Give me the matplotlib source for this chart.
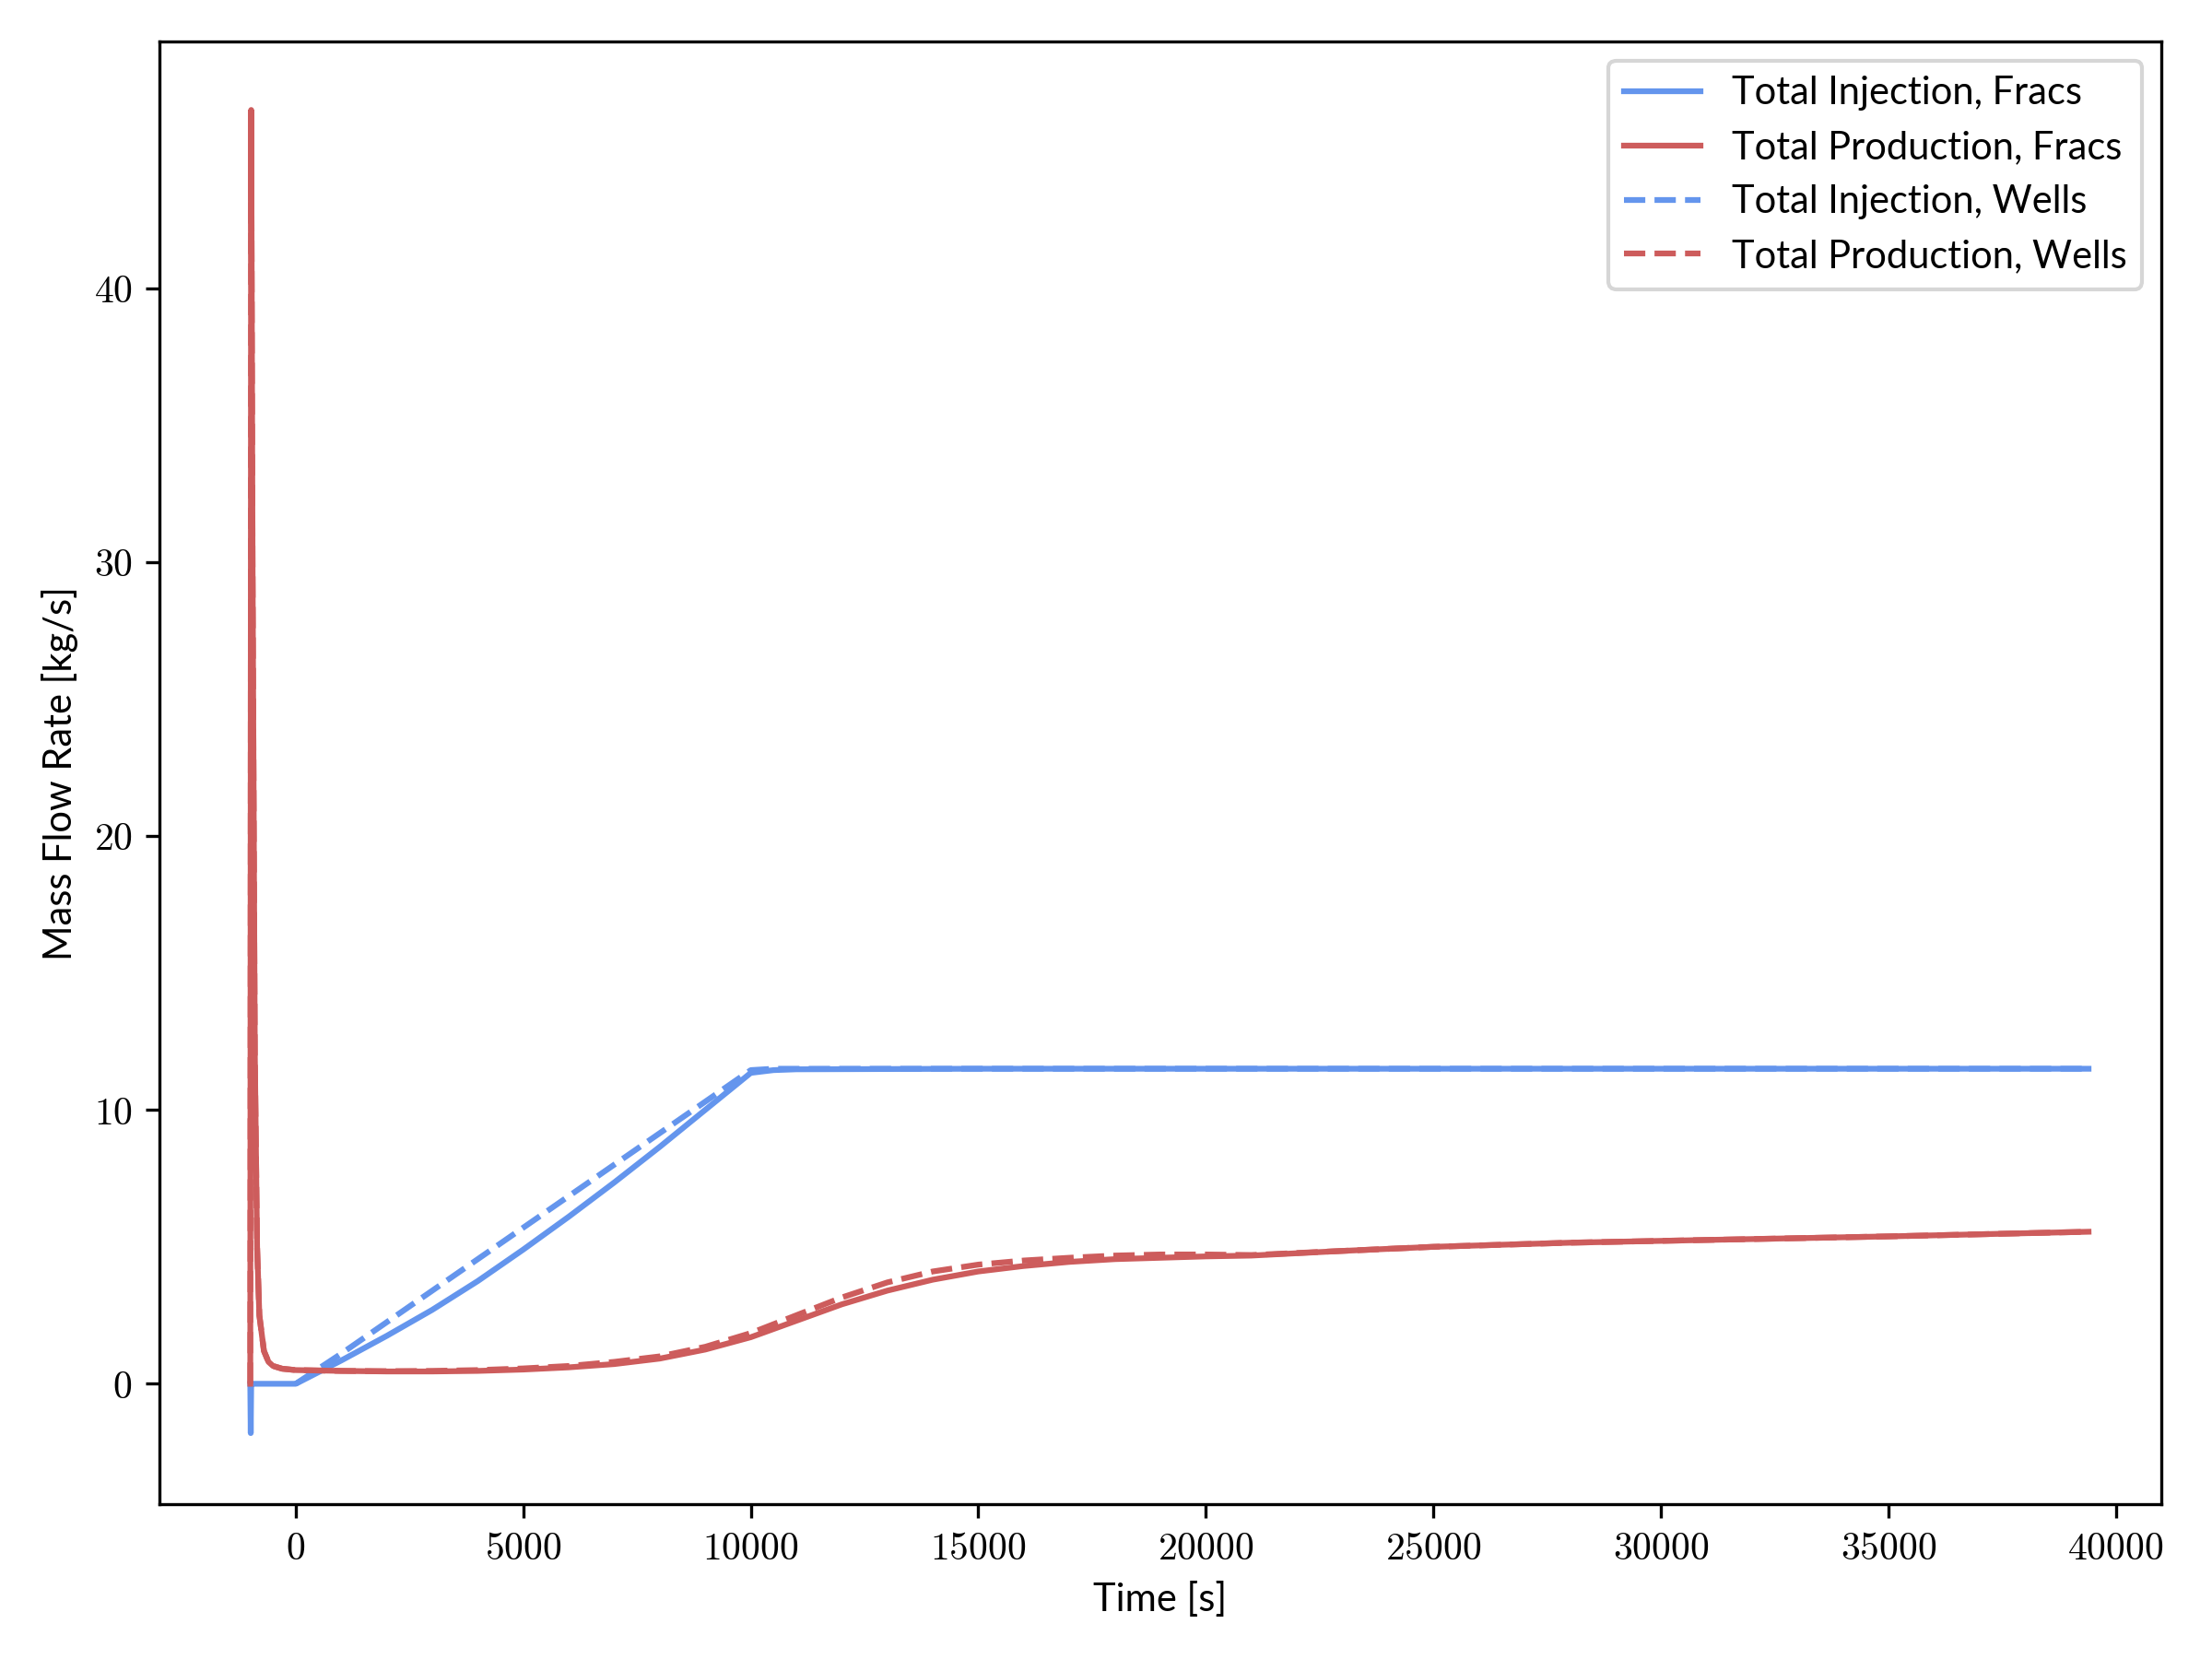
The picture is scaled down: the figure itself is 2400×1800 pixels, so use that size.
import matplotlib.pyplot as plt
import matplotlib.ticker as mticker

plt.rcParams['mathtext.fontset'] = 'cm'
plt.rcParams['font.family'] = ['Lato', 'DejaVu Sans']

# time points [s]
t_inj = [-1000, -990, -980, -900, 0, 1000, 2000, 3000, 4000, 5000, 6000, 7000, 8000, 9000,
         10000, 10500, 11000, 15000, 20000, 30000, 39400]
inj_fracs = [0.0, -1.8, 0.0, 0.0, 0.0, 0.85, 1.75, 2.7, 3.75, 4.9, 6.1, 7.35, 8.65, 10.0,
             11.35, 11.45, 11.48, 11.5, 11.5, 11.5, 11.5]
t_inj_w = [0, 1000, 2000, 3000, 4000, 5000, 6000, 7000, 8000, 9000, 10000, 10500, 11000,
           15000, 20000, 30000, 39400]
inj_wells = [0.0, 1.1, 2.25, 3.4, 4.55, 5.7, 6.85, 8.0, 9.15, 10.3, 11.45, 11.5, 11.5,
             11.5, 11.5, 11.5, 11.5]

t_prod = [-1000, -980, -950, -900, -850, -800, -700, -600, -500, -300, 0, 1000, 2000, 3000,
          4000, 5000, 6000, 7000, 8000, 9000, 10000, 11000, 12000, 13000, 14000, 15000,
          16000, 17000, 18000, 19000, 20000, 21000, 23000, 25000, 28000, 31000, 35000, 39400]
prod_fracs = [0.0, 46.5, 30.0, 12.0, 5.0, 2.5, 1.2, 0.8, 0.65, 0.55, 0.5, 0.47, 0.45, 0.45,
              0.47, 0.52, 0.6, 0.72, 0.92, 1.25, 1.7, 2.3, 2.9, 3.4, 3.8, 4.1, 4.3, 4.45, 4.55,
              4.6, 4.65, 4.68, 4.85, 5.0, 5.15, 5.25, 5.38, 5.55]
prod_wells = [0.0, 46.5, 30.0, 12.0, 5.0, 2.5, 1.2, 0.8, 0.65, 0.55, 0.5, 0.47, 0.46, 0.47,
              0.5, 0.56, 0.65, 0.8, 1.0, 1.35, 1.85, 2.5, 3.15, 3.7, 4.1, 4.35, 4.5, 4.6, 4.68,
              4.72, 4.72, 4.7, 4.85, 5.0, 5.15, 5.25, 5.38, 5.55]

blue = '#6495ED'
red = '#CD5C5C'

fig, ax = plt.subplots(figsize=(8, 6), dpi=300)
ax.plot(t_inj, inj_fracs, color=blue, lw=1.5, label='Total Injection, Fracs')
ax.plot(t_prod, prod_fracs, color=red, lw=1.5, label='Total Production, Fracs')
ax.plot(t_inj_w, inj_wells, color=blue, lw=1.5, ls='--', label='Total Injection, Wells')
ax.plot(t_prod, prod_wells, color=red, lw=1.5, ls='--', label='Total Production, Wells')

ax.xaxis.set_major_formatter(mticker.FuncFormatter(lambda v, p: r'$%d$' % v))
ax.yaxis.set_major_formatter(mticker.FuncFormatter(lambda v, p: r'$%d$' % v))
ax.set_xlim(-3000, 41000)
ax.set_ylim(-4.4, 49)
ax.set_xlabel('Time [s]', fontsize=10)
ax.set_ylabel('Mass Flow Rate [kg/s]', fontsize=10)
ax.legend(loc='upper right', fontsize=10)
fig.tight_layout()
fig.savefig('out.png')
